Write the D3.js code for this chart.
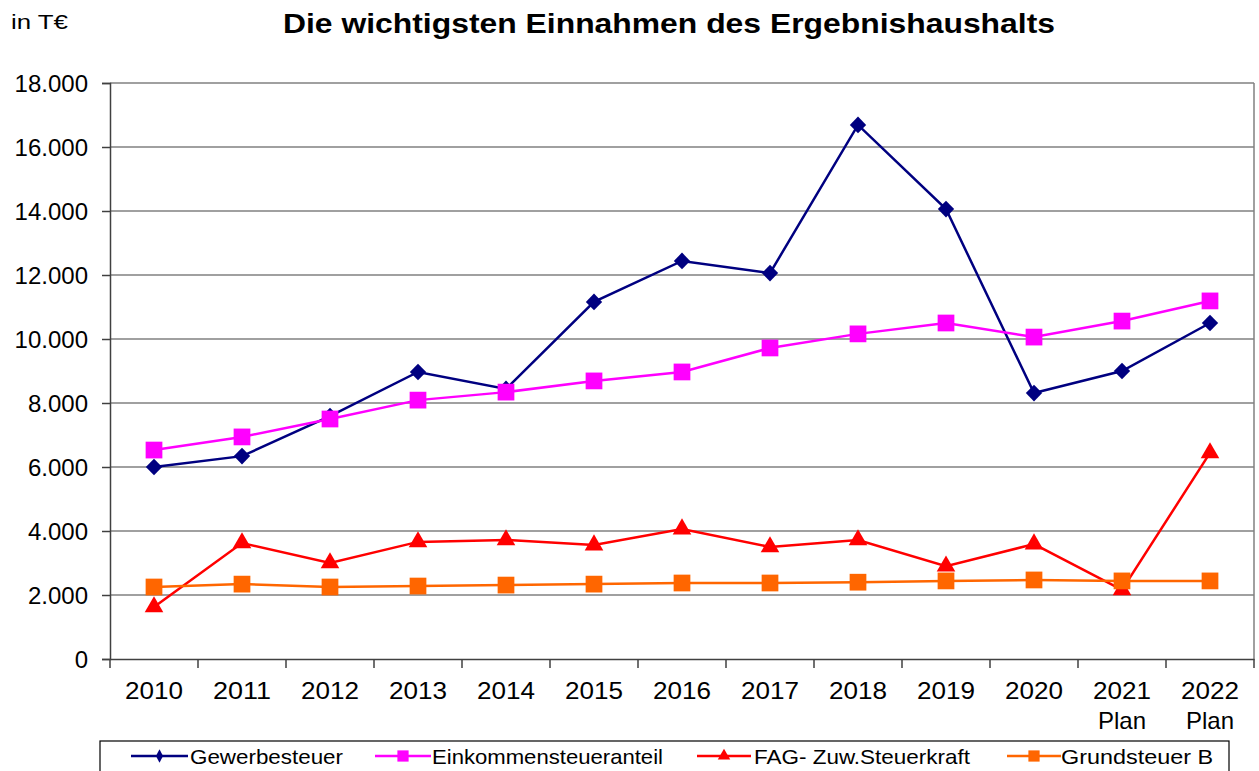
<!DOCTYPE html>
<html>
<head>
<meta charset="utf-8">
<script src="https://cdn.jsdelivr.net/npm/d3@7"></script>
<style>
  body { margin: 0; background: #fff; }
  text { font-family: Arial, "Liberation Sans", sans-serif; }
</style>
</head>
<body>
<svg width="1259" height="771"></svg>
<script>
var years = ["2010", "2011", "2012", "2013", "2014", "2015", "2016", "2017", "2018", "2019", "2020", "2021", "2022"];
var planYears = ["2021", "2022"];
var gewerbesteuer = [6000, 6340, 7590, 8970, 8440, 11160, 12440, 12060, 16690, 14060, 8310, 9000, 10500];
var einkommensteuer = [6530, 6940, 7500, 8090, 8340, 8690, 8970, 9720, 10160, 10500, 10060, 10560, 11190];
var fag = [1625, 3625, 3000, 3660, 3720, 3560, 4060, 3500, 3720, 2900, 3590, 2160, 6440];
var grundsteuer = [2250, 2340, 2250, 2280, 2310, 2340, 2375, 2375, 2400, 2440, 2470, 2440, 2440];
var yTicks = [0, 2000, 4000, 6000, 8000, 10000, 12000, 14000, 16000, 18000];

var series = [
  { name: "Gewerbesteuer", values: gewerbesteuer, color: "#000080", symbol: d3.symbolDiamond, size: 80 },
  { name: "Einkommensteueranteil", values: einkommensteuer, color: "#ff00ff", symbol: d3.symbolSquare, size: 280 },
  { name: "FAG- Zuw.Steuerkraft", values: fag, color: "#ff0000", symbol: d3.symbolTriangle, size: 150 },
  { name: "Grundsteuer B", values: grundsteuer, color: "#ff6600", symbol: d3.symbolSquare, size: 280 }
];

var svg = d3.select("svg");
var pLeft = 110, pRight = 1254, pTop = 83, pBottom = 659;

var x = d3.scaleBand().domain(years).range([pLeft, pRight]);
var y = d3.scaleLinear().domain([0, 18000]).range([pBottom, pTop]);
var fmt = function(d) { return d3.format(",")(d).replace(/,/g, "."); };

// gridlines
svg.append("g").selectAll("line").data(yTicks.slice(1)).enter().append("line")
  .attr("x1", pLeft).attr("x2", pRight)
  .attr("y1", function(d) { return y(d); }).attr("y2", function(d) { return y(d); })
  .attr("stroke", "#808080").attr("stroke-width", 1.5);

// right border
svg.append("line").attr("x1", pRight).attr("x2", pRight).attr("y1", pTop).attr("y2", pBottom)
  .attr("stroke", "#808080").attr("stroke-width", 1.5);

// y axis
var yAxis = svg.append("g").attr("transform", "translate(" + pLeft + ",0)")
  .call(d3.axisLeft(y).tickValues(yTicks).tickFormat(fmt).tickSize(8).tickPadding(14));
yAxis.select(".domain").attr("stroke", "#404040").attr("stroke-width", 1.5);
yAxis.selectAll(".tick line").attr("stroke", "#404040").attr("stroke-width", 1.5);
yAxis.selectAll("text").style("font-size", "24px").attr("fill", "#000").attr("dy", "0.36em");

// x axis
var xAxis = svg.append("g").attr("transform", "translate(0," + pBottom + ")")
  .call(d3.axisBottom(x).tickSize(0).tickFormat(""));
xAxis.select(".domain").attr("stroke", "#404040").attr("stroke-width", 1.5);
svg.append("g").selectAll("line").data(years.concat(["end"])).enter().append("line")
  .attr("x1", function(d, i) { return pLeft + i * x.bandwidth(); })
  .attr("x2", function(d, i) { return pLeft + i * x.bandwidth(); })
  .attr("y1", pBottom).attr("y2", pBottom + 9)
  .attr("stroke", "#404040").attr("stroke-width", 1.5);

svg.append("g").selectAll("text").data(years).enter().append("text")
  .attr("x", function(d) { return x(d) + x.bandwidth() / 2; })
  .attr("y", 699)
  .attr("text-anchor", "middle")
  .style("font-size", "24px")
  .attr("textLength", 58).attr("lengthAdjust", "spacingAndGlyphs")
  .text(function(d) { return d; });
svg.append("g").selectAll("text").data(planYears).enter().append("text")
  .attr("x", function(d) { return x(d) + x.bandwidth() / 2; })
  .attr("y", 729)
  .attr("text-anchor", "middle")
  .style("font-size", "24px")
  .text("Plan");

// lines + markers
var line = d3.line()
  .x(function(d, i) { return x(years[i]) + x.bandwidth() / 2; })
  .y(function(d) { return y(d); });

series.forEach(function(s) {
  svg.append("path").datum(s.values)
    .attr("d", line).attr("fill", "none")
    .attr("stroke", s.color).attr("stroke-width", 2.5);
});
series.forEach(function(s) {
  svg.append("g").selectAll("path").data(s.values).enter().append("path")
    .attr("d", d3.symbol().type(s.symbol).size(s.size))
    .attr("transform", function(d, i) {
      var sy = s.symbol === d3.symbolDiamond ? "scale(1.7,1)" : "";
      return "translate(" + (x(years[i]) + x.bandwidth() / 2) + "," + y(d) + ")" + sy;
    })
    .attr("fill", s.color);
});

// title
svg.append("text").attr("x", 283).attr("y", 33)
  .style("font-size", "28px").style("font-weight", "bold")
  .attr("textLength", 772).attr("lengthAdjust", "spacingAndGlyphs")
  .text("Die wichtigsten Einnahmen des Ergebnishaushalts");
svg.append("text").attr("x", 11).attr("y", 29)
  .style("font-size", "21px")
  .attr("textLength", 57).attr("lengthAdjust", "spacingAndGlyphs")
  .text("in T€");

// legend
svg.append("rect").attr("x", 100).attr("y", 741).attr("width", 1129).attr("height", 40)
  .attr("fill", "#fff").attr("stroke", "#000").attr("stroke-width", 1.2);
var legLine = [[131, 188], [375, 431], [697, 751], [1007, 1061]];
var legText = [[190, 153], [432, 231], [754, 216], [1061, 152]];
series.forEach(function(s, i) {
  var g = svg.append("g").attr("transform", "translate(0,756)");
  g.append("line").attr("x1", legLine[i][0]).attr("x2", legLine[i][1])
    .attr("stroke", s.color).attr("stroke-width", 2.5);
  g.append("path").attr("d", d3.symbol().type(s.symbol).size(s.size * 0.45))
    .attr("transform", "translate(" + ((legLine[i][0] + legLine[i][1]) / 2) + ",0)" +
      (s.symbol === d3.symbolDiamond ? "scale(1.1,1.2)" : ""))
    .attr("fill", s.color);
  g.append("text").attr("x", legText[i][0]).attr("y", 8).style("font-size", "21px")
    .attr("textLength", legText[i][1]).attr("lengthAdjust", "spacingAndGlyphs")
    .text(s.name);
});
</script>
</body>
</html>
